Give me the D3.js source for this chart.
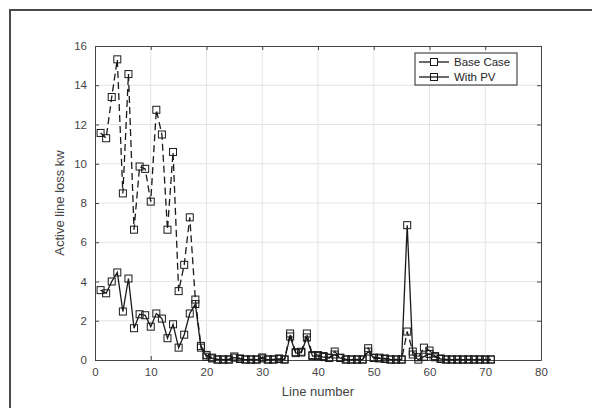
<!DOCTYPE html>
<html>
<head>
<meta charset="utf-8">
<script src="https://cdn.jsdelivr.net/npm/d3@7"></script>
<style>
  body { margin: 0; background: #fff; }
  svg { display: block; font-family: "Liberation Sans", Arial, sans-serif; }
</style>
</head>
<body>
<div id="chart"></div>
<script>
// line numbers 1..71
const lineNumbers = d3.range(1, 72);

// active line loss (kW)
const baseCase = [
  11.57, 11.30, 13.40, 15.32, 8.49, 14.57, 6.64, 9.86, 9.74, 8.07,
  12.75, 11.49, 6.64, 10.60, 3.51, 4.85, 7.27, 3.08, 0.72, 0.26,
  0.12, 0.03, 0.03, 0.03, 0.18, 0.08, 0.03, 0.03, 0.03, 0.13,
  0.03, 0.03, 0.08, 0.03, 1.35, 0.40, 0.42, 1.35, 0.25, 0.25,
  0.20, 0.12, 0.43, 0.12, 0.03, 0.03, 0.03, 0.03, 0.60, 0.12,
  0.12, 0.08, 0.03, 0.03, 0.03, 1.45, 0.43, 0.14, 0.63, 0.48,
  0.20, 0.08, 0.03, 0.03, 0.03, 0.03, 0.03, 0.03, 0.03, 0.03,
  0.03
];

const withPV = [
  3.56, 3.40, 4.00, 4.46, 2.47, 4.15, 1.62, 2.33, 2.28, 1.70,
  2.37, 2.11, 1.11, 1.82, 0.63, 1.29, 2.37, 2.85, 0.63, 0.17,
  0.08, 0.02, 0.02, 0.02, 0.12, 0.05, 0.02, 0.02, 0.02, 0.08,
  0.02, 0.02, 0.05, 0.02, 1.20, 0.35, 0.38, 1.15, 0.20, 0.20,
  0.15, 0.10, 0.28, 0.10, 0.02, 0.02, 0.02, 0.02, 0.43, 0.10,
  0.08, 0.05, 0.02, 0.02, 0.02, 6.87, 0.28, 0.02, 0.17, 0.31,
  0.14, 0.05, 0.02, 0.02, 0.02, 0.02, 0.02, 0.02, 0.02, 0.02,
  0.02
];

const seriesNames = ["Base Case", "With PV"];
const xTicks = d3.range(0, 81, 10);
const yTicks = d3.range(0, 17, 2);

const W = 592, H = 408;
const margin = { left: 95, right: 51, top: 46, bottom: 48 };
const iw = W - margin.left - margin.right,
  ih = H - margin.top - margin.bottom;

const svg = d3.select("#chart").append("svg")
  .attr("width", W).attr("height", H);

// outer frame (cropped on right/bottom)
svg.append("path")
  .attr("d", `M10,${H} L10,10 L${W},10`)
  .attr("fill", "none").attr("stroke", "#4a4a4a").attr("stroke-width", 2);

const x = d3.scaleLinear().domain([0, 80]).range([0, iw]);
const y = d3.scaleLinear().domain([0, 16]).range([ih, 0]);

const g = svg.append("g").attr("transform", `translate(${margin.left},${margin.top})`);

// grid
g.append("g").selectAll("line").data(xTicks.slice(1, -1)).join("line")
  .attr("x1", d => x(d)).attr("x2", d => x(d))
  .attr("y1", 0).attr("y2", ih)
  .attr("stroke", "#e3e3e3").attr("stroke-width", 1);
g.append("g").selectAll("line").data(yTicks.slice(1, -1)).join("line")
  .attr("y1", d => y(d)).attr("y2", d => y(d))
  .attr("x1", 0).attr("x2", iw)
  .attr("stroke", "#e3e3e3").attr("stroke-width", 1);

// axes (inward ticks, MATLAB style)
const axColor = "#454545";
const xAxis = g.append("g").attr("transform", `translate(0,${ih})`)
  .call(d3.axisBottom(x).tickValues(xTicks).tickSizeInner(-4).tickSizeOuter(0).tickPadding(8));
const xTop = g.append("g")
  .call(d3.axisTop(x).tickValues(xTicks).tickSizeInner(-4).tickSizeOuter(0).tickFormat(""));
const yAxis = g.append("g")
  .call(d3.axisLeft(y).tickValues(yTicks).tickSizeInner(-4).tickSizeOuter(0).tickPadding(8));
const yRight = g.append("g").attr("transform", `translate(${iw},0)`)
  .call(d3.axisRight(y).tickValues(yTicks).tickSizeInner(-4).tickSizeOuter(0).tickFormat(""));

[xAxis, xTop, yAxis, yRight].forEach(a => {
  a.select(".domain").attr("stroke", axColor).attr("stroke-width", 1);
  a.selectAll(".tick line").attr("stroke", axColor);
  a.selectAll(".tick text").attr("fill", axColor).attr("font-size", 11.5)
    .attr("font-family", "'Liberation Sans', Arial, sans-serif");
});

// axis titles
svg.append("text")
  .attr("x", margin.left + iw / 2).attr("y", 396)
  .attr("text-anchor", "middle").attr("font-size", 13).attr("fill", axColor)
  .text("Line number");
svg.append("text")
  .attr("transform", `translate(64,${margin.top + ih / 2}) rotate(-90)`)
  .attr("text-anchor", "middle").attr("font-size", 13).attr("fill", axColor)
  .text("Active line loss kw");

// series
const series = [
  { name: seriesNames[0], values: baseCase, dash: "7,4" },
  { name: seriesNames[1], values: withPV, dash: null },
];
const lineGen = d3.line().x(d => x(d[0])).y(d => y(d[1]));

series.forEach(s => {
  const pts = lineNumbers.map((n, i) => [n, s.values[i]]);
  g.append("path").datum(pts)
    .attr("d", lineGen)
    .attr("fill", "none").attr("stroke", "#1a1a1a").attr("stroke-width", 1.3)
    .attr("stroke-dasharray", s.dash);
  g.append("g").selectAll("rect").data(pts).join("rect")
    .attr("x", d => x(d[0]) - 3.5).attr("y", d => y(d[1]) - 3.5)
    .attr("width", 7).attr("height", 7)
    .attr("fill", "none").attr("stroke", "#1a1a1a").attr("stroke-width", 1);
});

// legend
const leg = svg.append("g").attr("transform", "translate(415,53)");
leg.append("rect").attr("width", 102).attr("height", 32)
  .attr("fill", "#fff").attr("stroke", "#262626").attr("stroke-width", 1);
series.forEach((s, i) => {
  const ly = 9 + i * 15;
  leg.append("line").attr("x1", 4).attr("x2", 34).attr("y1", ly).attr("y2", ly)
    .attr("stroke", "#1a1a1a").attr("stroke-width", 1.3);
  leg.append("rect").attr("x", 15.5).attr("y", ly - 3.5).attr("width", 7).attr("height", 7)
    .attr("fill", i === 0 ? "#fff" : "none").attr("stroke", "#1a1a1a");
  leg.append("text").attr("x", 39).attr("y", ly + 4)
    .attr("font-size", 11.5).attr("fill", "#262626").text(s.name);
});
</script>
</body>
</html>
